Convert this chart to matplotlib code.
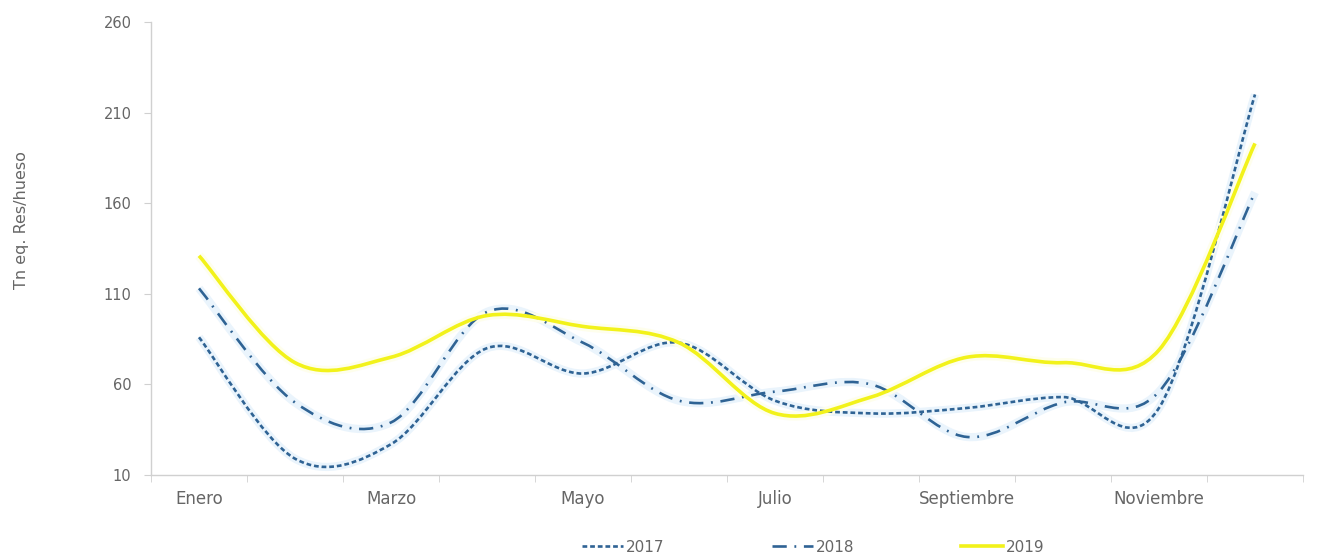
import matplotlib
matplotlib.use("Agg")
import matplotlib.pyplot as plt
from matplotlib.path import Path
from matplotlib.patches import PathPatch
from matplotlib.lines import Line2D

# data
meses = ["Enero", "Febrero", "Marzo", "Abril", "Mayo", "Junio", "Julio",
         "Agosto", "Septiembre", "Octubre", "Noviembre", "Diciembre"]
v2017 = [86, 19, 27, 80, 66, 83, 51, 44, 47, 53, 47, 220]
v2018 = [113, 50, 39, 100, 83, 51, 56, 60, 31, 50, 56, 166]
v2019 = [131, 72, 75, 98, 92, 83, 44, 53, 75, 72, 79, 193]
yticks = [10, 60, 110, 160, 210, 260]

plt.rcParams["font.family"] = ["DejaVu Sans"]
gris = "#666666"


def smooth_path(x, y):
    # excel-like smoothed line: cubic bezier segments through every point
    n = len(x)
    verts = [(x[0], y[0])]
    codes = [Path.MOVETO]
    for i in range(n - 1):
        a = i - 1 if i > 0 else i
        b = i + 2 if i + 2 < n else i + 1
        c1 = (x[i] + (x[i + 1] - x[a]) / 6, y[i] + (y[i + 1] - y[a]) / 6)
        c2 = (x[i + 1] - (x[b] - x[i]) / 6, y[i + 1] - (y[b] - y[i]) / 6)
        verts += [c1, c2, (x[i + 1], y[i + 1])]
        codes += [Path.CURVE4] * 3
    return Path(verts, codes)


fig = plt.figure(figsize=(13.17, 5.57), dpi=100)
ax = fig.add_axes([151 / 1317, 1 - 475 / 557, (1303 - 151) / 1317, (475 - 22) / 557])

x = list(range(len(meses)))
azul = "#2F6394"
estilos = [
    (v2017, azul, (0, (1.8, 1.1)), 1.9, "#EAF4FC", "2017"),
    (v2018, azul, (0, (5.4, 2.9, 0.7, 2.9)), 1.9, "#EAF4FC", "2018"),
    (v2019, "#F2F21A", "-", 2.6, "#FEFEEC", "2019"),
]
handles = []
for vals, col, ls, lw, glow, lab in estilos:
    p = smooth_path(x, vals)
    ax.add_patch(PathPatch(p, fill=False, edgecolor=glow, lw=lw + 4,
                           transform=ax.transData, zorder=1))
    ax.add_patch(PathPatch(p, fill=False, edgecolor=col, lw=lw, linestyle=ls,
                           capstyle="butt", transform=ax.transData, zorder=3))
    handles.append(Line2D([], [], color=col, lw=lw, linestyle=ls, label=lab))

ax.set_xlim(-0.5, len(meses) - 0.5)
ax.set_ylim(yticks[0], yticks[-1])
ax.set_yticks(yticks)
ax.set_xticks(x[::2])
ax.set_xticklabels(meses[::2])
ax.set_xticks([i - 0.5 for i in range(len(meses) + 1)], minor=True)

for s in ["top", "right"]:
    ax.spines[s].set_visible(False)
for s in ["left", "bottom"]:
    ax.spines[s].set_color("#D0D0D0")
    ax.spines[s].set_linewidth(1)

ax.tick_params(axis="x", which="major", length=0, pad=11, labelsize=12, labelcolor=gris)
ax.tick_params(axis="x", which="minor", length=5, color="#D0D0D0", direction="out")
ax.tick_params(axis="y", length=5, color="#D0D0D0", pad=9, labelsize=10.5, labelcolor=gris)

fig.text(22 / 1317, 1 - 220 / 557, "Tn eq. Res/hueso", rotation=90,
         ha="center", va="center", fontsize=11.5, color=gris)

fig.legend(handles=handles, loc="center", bbox_to_anchor=(813 / 1317, 1 - 547 / 557),
           ncol=3, frameon=False, fontsize=11, labelcolor=gris, handlelength=2.7,
           handletextpad=0.2, columnspacing=7.0)

fig.savefig("out.png", dpi=100)
